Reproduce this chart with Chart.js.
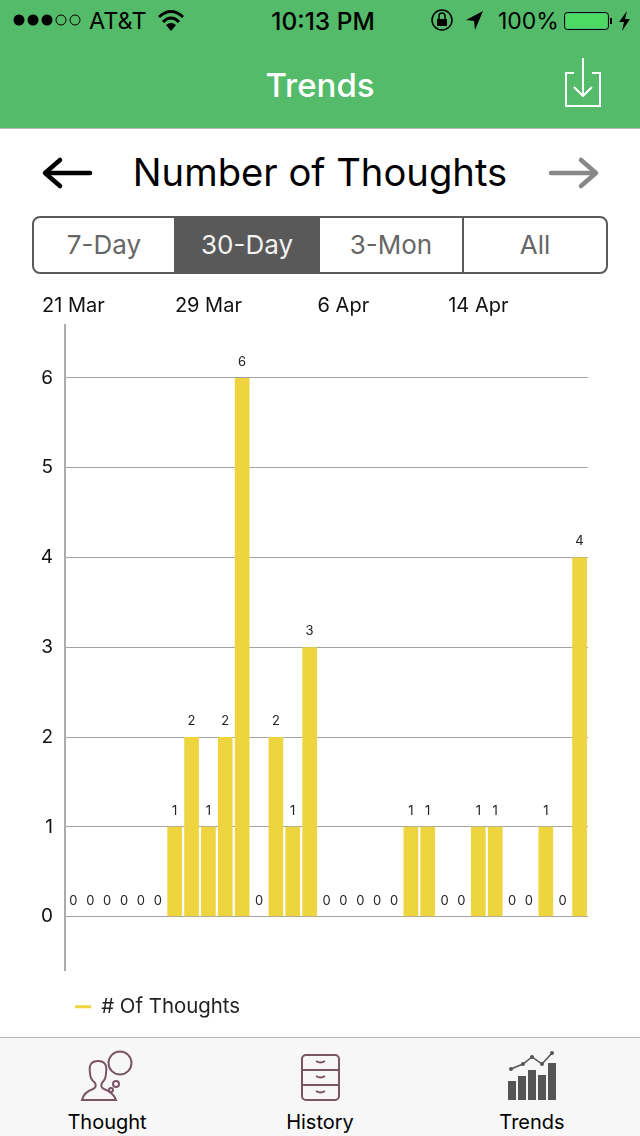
<!DOCTYPE html>
<html>
<head>
<meta charset="utf-8">
<title>Trends</title>
<script src="https://cdn.jsdelivr.net/npm/chart.js@4"></script>
<style>
  html, body { margin: 0; padding: 0; background: #fff; }
  body { position: relative; width: 640px; height: 1136px; overflow: hidden; font-family: Inter, "Noto Sans", sans-serif; color: #000; }
  .abs { position: absolute; white-space: nowrap; }
  #nav { left: 0; top: 0; width: 640px; height: 128px; background: #53bb69; border-bottom: 1px solid #b8b8b8; }
  #tabs { left: 0; top: 1037px; width: 640px; height: 99px; background: #f7f7f7; border-top: 1px solid #b4b4b4; z-index: 2; }
  #chartWrap { left: 0; top: 291px; width: 640px; height: 740px; }
  #seg { left: 32px; top: 216px; width: 572px; height: 54px; border: 2px solid #5a5a5a; border-radius: 8px; overflow: hidden; display: flex; font-size: 26px; line-height: 54px; text-align: center; color: #666; }
  #seg div { height: 54px; }
  #seg .on { background: #595959; color: #f2f2f2; }
  .center { transform: translateX(-50%); }
</style>
</head>
<body>
<div class="abs" id="nav"></div>

<!-- status bar -->
<svg class="abs" style="left:0;top:0" width="640" height="128">
  <g fill="#000"><circle cx="19" cy="20" r="5.5"/><circle cx="33" cy="20" r="5.5"/><circle cx="47" cy="20" r="5.5"/></g>
  <g fill="none" stroke="#000" stroke-width="1"><circle cx="61" cy="20" r="5"/><circle cx="75" cy="20" r="5"/></g>
  <g fill="none" stroke="#000" stroke-width="3">
    <path d="M159 17 Q171 6 183 17"/><path d="M163 22 Q171 14 179 22"/>
  </g>
  <path d="M166 25 Q171 21 176 25 L171 31 Z" fill="#000"/>
  <circle cx="442" cy="20" r="10" fill="none" stroke="#000" stroke-width="1.5"/>
  <rect x="437" y="19" width="10" height="7" fill="#000"/>
  <path d="M439 19 v-3 a3 3 0 0 1 6 0 v3" fill="none" stroke="#000" stroke-width="1.5"/>
  <path d="M483 11 L466 20 L474 21 L475 30 Z" fill="#000"/>
  <rect x="564.5" y="12.5" width="44" height="17" rx="3" fill="none" stroke="#000"/>
  <rect x="566" y="14" width="41" height="14" rx="2" fill="#4cd964"/>
  <rect x="610" y="18" width="2" height="6" fill="#000"/>
  <path d="M627 11 L619 22 L624 22 L622 31 L630 19 L625 19 Z" fill="#000"/>
  <!-- export icon -->
  <g fill="none" stroke="#fff" stroke-width="2">
    <path d="M574 73 H566 V106 H600 V73 H592"/>
    <path d="M583 58 V96"/>
    <path d="M574 87 L583 96 L592 87"/>
  </g>
</svg>
<div class="abs" style="left:89px;top:8px;font-size:23.5px;line-height:26px">AT&amp;T</div>
<div class="abs center" style="left:323px;top:8px;font-size:24.5px;line-height:26px;font-weight:500">10:13 PM</div>
<div class="abs" style="left:498px;top:8px;font-size:23px;line-height:26px">100%</div>
<div class="abs center" style="left:320px;top:65px;font-size:33px;line-height:40px;font-weight:500;color:#fff">Trends</div>

<!-- title row -->
<svg class="abs" style="left:0;top:150px" width="640" height="50">
  <g fill="none" stroke="#000" stroke-width="4.5" stroke-linecap="round" stroke-linejoin="round">
    <path d="M90 23 H46"/><path d="M60 10 L45 23 L60 36"/>
  </g>
  <g fill="none" stroke="#888" stroke-width="4.5" stroke-linecap="round" stroke-linejoin="round">
    <path d="M551 23 H594"/><path d="M581 10 L596 23 L581 36"/>
  </g>
</svg>
<div class="abs center" style="left:320px;top:149px;font-size:38.2px;line-height:46px">Number of Thoughts</div>

<!-- range selector -->
<div class="abs" id="seg">
  <div style="width:140px">7-Day</div>
  <div class="on" style="width:146px">30-Day</div>
  <div style="width:142px;border-right:2px solid #5a5a5a">3-Mon</div>
  <div style="flex:1">All</div>
</div>

<div class="abs" id="chartWrap"><canvas id="trendChart" width="640" height="740"></canvas></div>

<!-- tab bar -->
<div class="abs" id="tabs"></div>
<svg class="abs" style="left:0;top:1037px;z-index:3" width="640" height="70">
  <g fill="none" stroke="#7a5566" stroke-width="2">
    <circle cx="120" cy="26" r="11.500"/><circle cx="116" cy="47" r="3"/><circle cx="111" cy="53" r="2"/>
    <path d="M82 63 Q84 55 93 52 Q97 50 95 46 Q90 42 90 36 Q88 24 98 24 Q108 24 106 36 Q106 42 102 46 Q100 50 104 52 Q113 55 116 63 Z"/>
    <rect x="302" y="18" width="37" height="45" rx="4"/>
    <path d="M302 33 H339 M302 48 H339"/>
    <path d="M316 24 q4.500 3 9 0 M316 39 q4.500 3 9 0 M316 54 q4.500 3 9 0"/>
  </g>
  <g fill="#555">
    <rect x="508" y="44" width="8" height="19"/><rect x="518" y="39" width="8" height="24"/><rect x="528" y="33" width="8" height="30"/>
    <rect x="538" y="38" width="8" height="25"/><rect x="548" y="26" width="8" height="37"/>
  </g>
  <g fill="#555"><circle cx="511" cy="32" r="2"/><circle cx="523" cy="27" r="2"/><circle cx="532" cy="20" r="2"/><circle cx="542" cy="27" r="2"/><circle cx="552" cy="16" r="2"/></g>
  <path d="M511 32 L523 27 L532 20 L542 27 L552 16" fill="none" stroke="#555" stroke-width="1.500"/>
</svg>
<div class="abs center" style="left:107px;top:1109px;font-size:20px;line-height:26px;z-index:3">Thought</div>
<div class="abs center" style="left:320px;top:1109px;font-size:20px;line-height:26px;z-index:3">History</div>
<div class="abs center" style="left:532px;top:1109px;font-size:20px;line-height:26px;z-index:3">Trends</div>

<script>
const categories = [
  '21 Mar', '22 Mar', '23 Mar', '24 Mar', '25 Mar', '26 Mar', '27 Mar', '28 Mar',
  '29 Mar', '30 Mar', '31 Mar', '1 Apr', '2 Apr', '3 Apr', '4 Apr', '5 Apr',
  '6 Apr', '7 Apr', '8 Apr', '9 Apr', '10 Apr', '11 Apr', '12 Apr', '13 Apr',
  '14 Apr', '15 Apr', '16 Apr', '17 Apr', '18 Apr', '19 Apr', '20 Apr'
];
const thoughts = [0, 0, 0, 0, 0, 0, 1, 2, 1, 2, 6, 0, 2, 1, 3, 0, 0, 0, 0, 0, 1, 1, 0, 0, 1, 1, 0, 0, 1, 0, 4];
const shownDates = ['21 Mar', '29 Mar', '6 Apr', '14 Apr'];
const yTicks = [0, 1, 2, 3, 4, 5, 6];
const seriesName = '# Of Thoughts';

const FONT = 'Inter, "Noto Sans", sans-serif';

// Draws the small value above each bar
const valueLabels = {
  id: 'valueLabels',
  afterDatasetsDraw(chart) {
    const ctx = chart.ctx;
    const bars = chart.getDatasetMeta(0).data;
    ctx.save();
    ctx.font = `13px ${FONT}`;
    ctx.fillStyle = '#222';
    ctx.textAlign = 'center';
    ctx.textBaseline = 'middle';
    bars.forEach((bar, i) => ctx.fillText(String(thoughts[i]), bar.x, bar.y - 16));
    ctx.restore();
  }
};

// The legend sits lower than Chart.js would stack it under the plot
const legendGap = {
  id: 'legendGap',
  afterLayout(chart) {
    chart.legend.top += 16;
    chart.legend.bottom += 16;
  }
};

new Chart(document.getElementById('trendChart'), {
  type: 'bar',
  data: {
    labels: categories,
    datasets: [{
      label: seriesName,
      data: thoughts,
      backgroundColor: '#eed43f',
      barPercentage: 0.87,
      categoryPercentage: 1
    }]
  },
  plugins: [valueLabels, legendGap],
  options: {
    responsive: false,
    animation: false,
    devicePixelRatio: 1,
    layout: { padding: { left: 0, right: 52, top: 0, bottom: 20 } },
    plugins: {
      tooltip: { enabled: false },
      legend: {
        position: 'bottom',
        align: 'start',
        fullSize: false,
        onClick: null,
        labels: {
          boxWidth: 16,
          boxHeight: 3,
          padding: 10,
          color: '#222',
          font: { family: FONT, size: 20.4 }
        }
      }
    },
    scales: {
      x: {
        position: 'top',
        grid: { display: false, drawTicks: false },
        border: { display: false },
        afterFit(scale) { scale.height = 34; },
        ticks: {
          autoSkip: false,
          maxRotation: 0,
          padding: 7,
          color: '#111',
          font: { family: FONT, size: 20 },
          callback(value, index) {
            const name = categories[index];
            return shownDates.includes(name) ? name : '';
          }
        }
      },
      y: {
        min: -0.601,
        max: 6.59,
        afterBuildTicks(scale) { scale.ticks = yTicks.map(v => ({ value: v })); },
        afterFit(scale) { scale.width = 65; },
        grid: { color: '#a3a3a3', lineWidth: 1, drawTicks: false },
        border: { display: true, color: '#ababab', width: 2 },
        ticks: {
          padding: 12,
          color: '#111',
          font: { family: FONT, size: 19 },
          callback(value) { return value; }
        }
      }
    }
  }
});
</script>
</body>
</html>
